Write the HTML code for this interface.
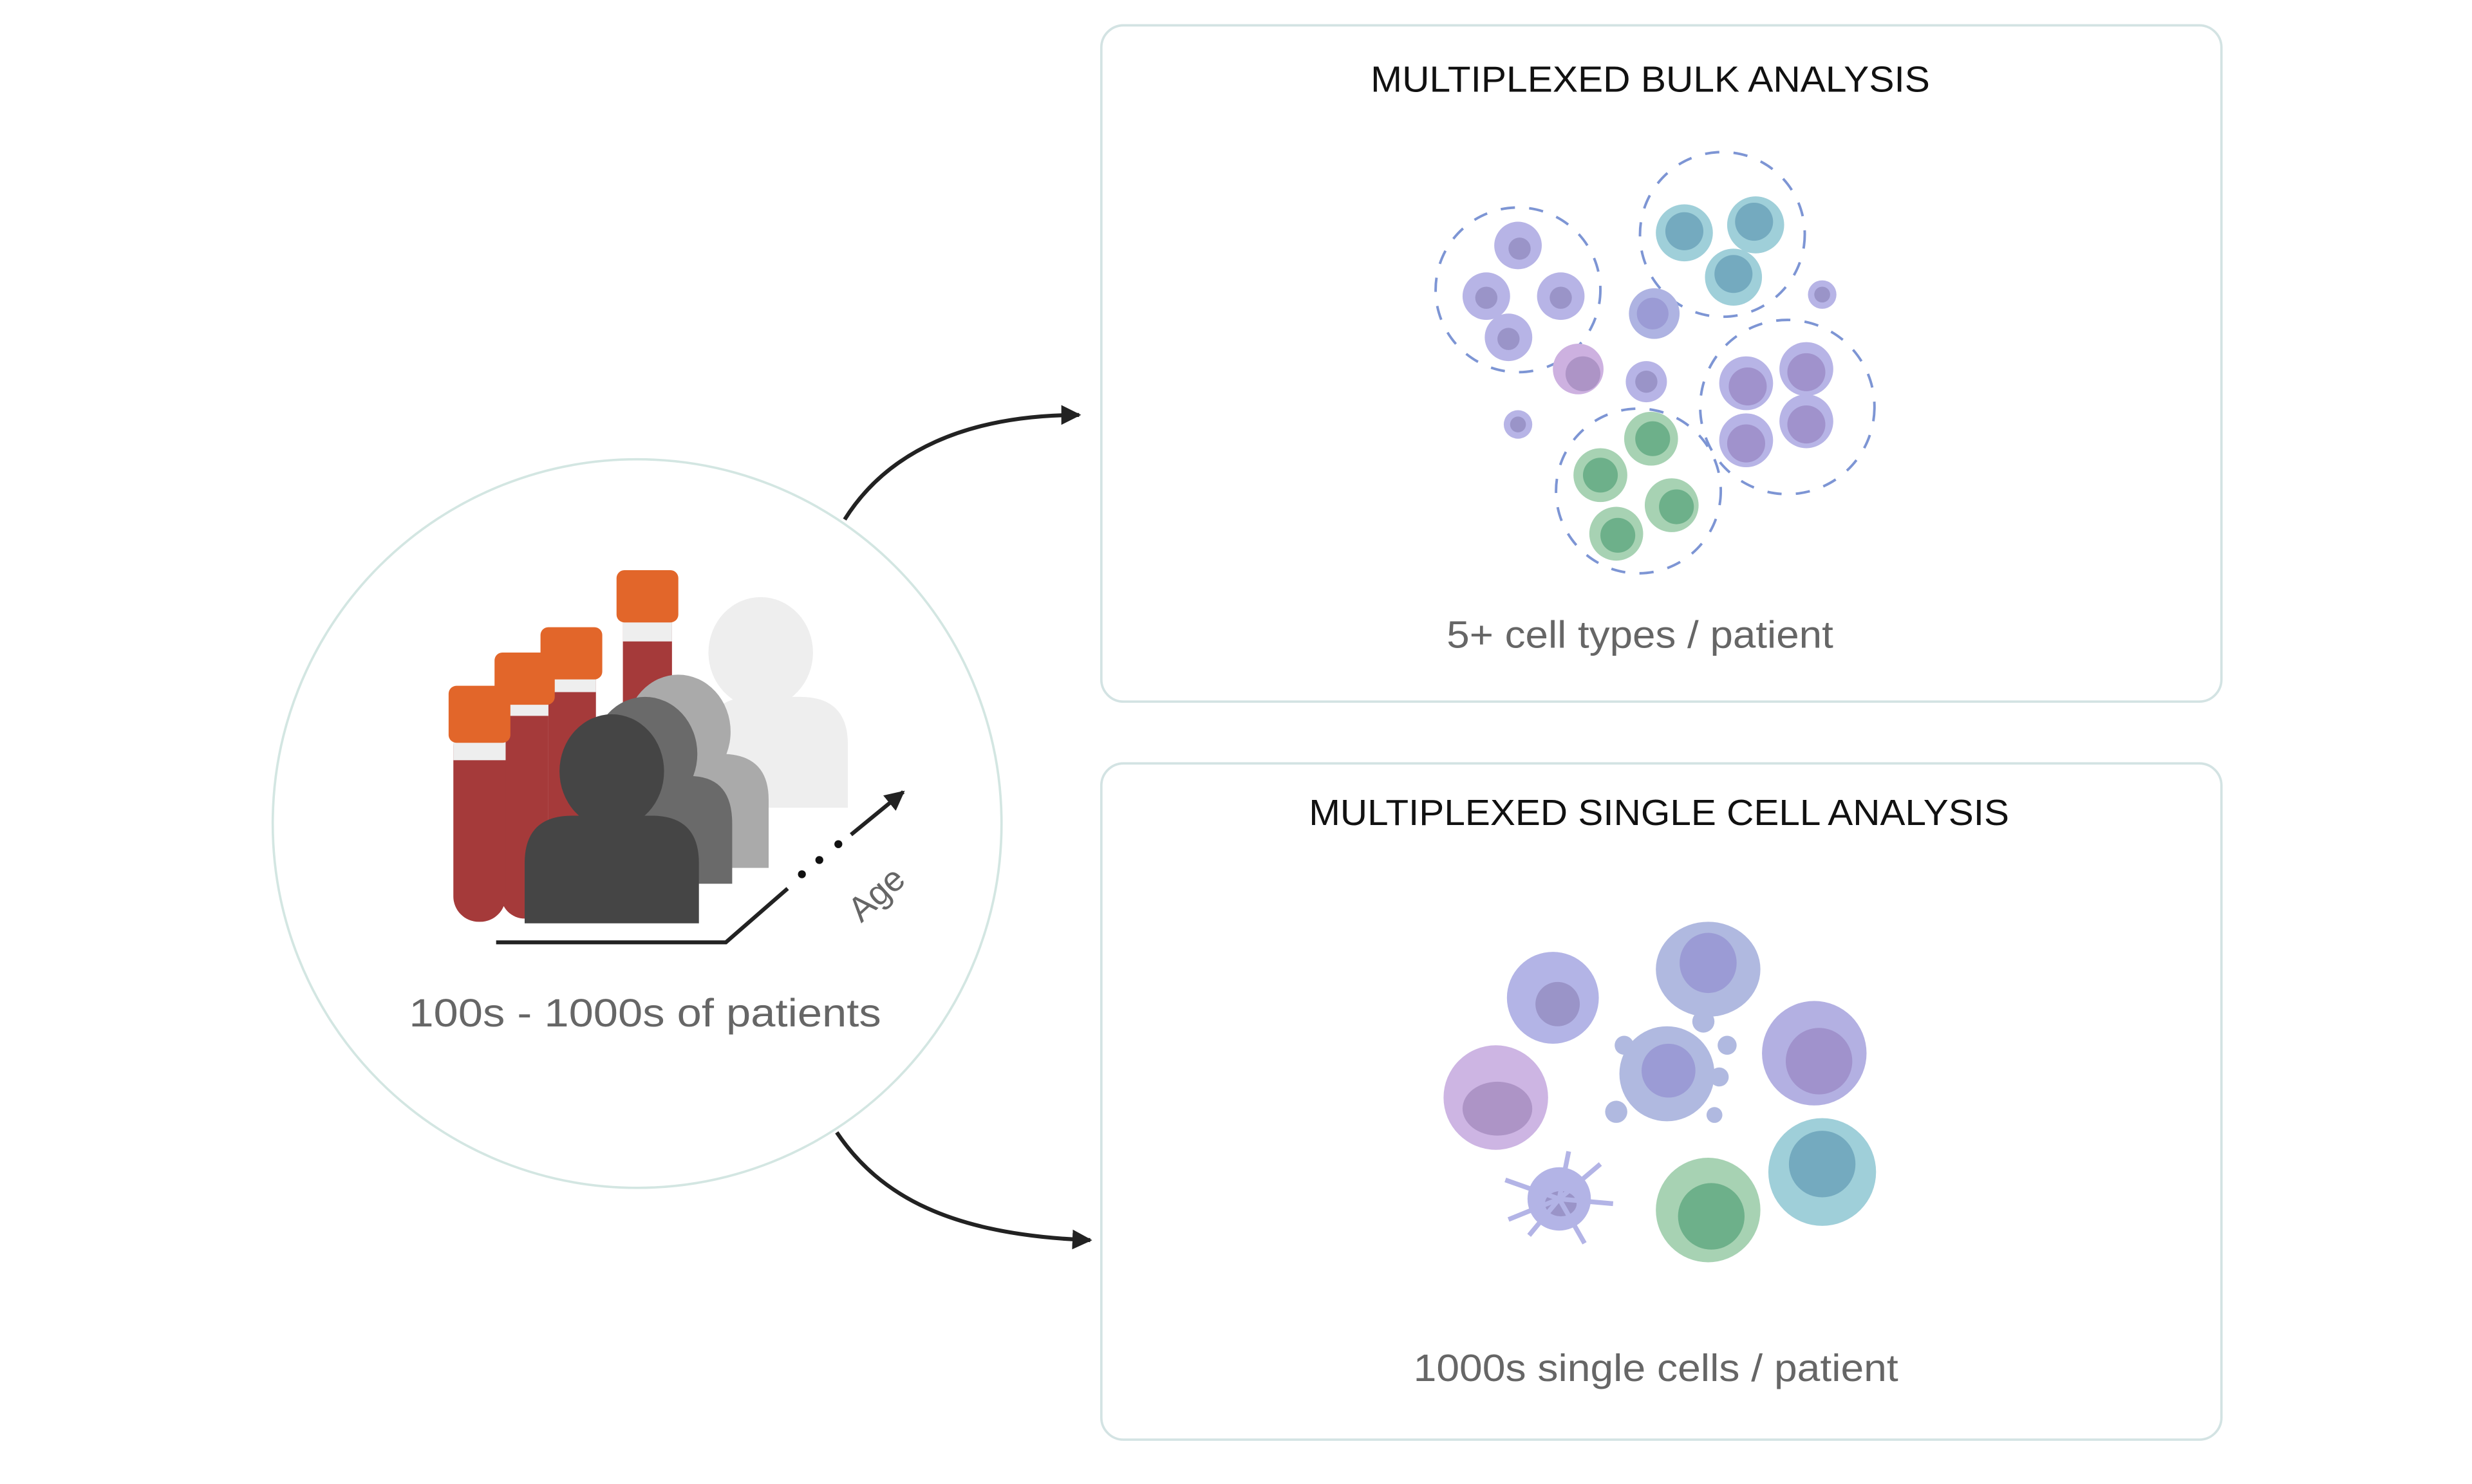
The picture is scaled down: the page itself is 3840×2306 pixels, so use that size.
<!DOCTYPE html>
<html><head><meta charset="utf-8"><style>html,body{margin:0;padding:0;background:#fff}svg{display:block}</style></head>
<body>
<svg width="3840" height="2306" viewBox="0 0 1560 937" xmlns="http://www.w3.org/2000/svg" font-family="Liberation Sans, sans-serif">
<defs>
<marker id="ah" viewBox="0 0 10 10" refX="9" refY="5" markerWidth="5" markerHeight="5" orient="auto"><path d="M0,0L10,5L0,10z" fill="#222"/></marker>
</defs>
<rect width="1560" height="937" fill="#fff"/>
<rect x="695" y="16" width="707" height="427" rx="14" fill="#fff" stroke="#d3e3e3" stroke-width="1.5"/>
<rect x="695" y="482" width="707" height="427" rx="14" fill="#fff" stroke="#d3e3e3" stroke-width="1.5"/>
<text x="865" y="58" font-size="23" fill="#111" textLength="353" lengthAdjust="spacingAndGlyphs">MULTIPLEXED BULK ANALYSIS</text>
<text x="826" y="521" font-size="23" fill="#111" textLength="442" lengthAdjust="spacingAndGlyphs">MULTIPLEXED SINGLE CELL ANALYSIS</text>
<text x="913" y="409" font-size="24" fill="#666" textLength="244" lengthAdjust="spacingAndGlyphs">5+ cell types / patient</text>
<text x="892" y="872" font-size="24" fill="#666" textLength="306" lengthAdjust="spacingAndGlyphs">1000s single cells / patient</text>
<circle cx="402" cy="520" r="230" fill="#fff" stroke="#d3e6e2" stroke-width="1.5"/>
<text x="258" y="648" font-size="25" fill="#666" textLength="298" lengthAdjust="spacingAndGlyphs">100s - 1000s of patients</text>
<path d="M533,328 C560,285 610,262 681,262" fill="none" stroke="#222" stroke-width="2.5" marker-end="url(#ah)"/>
<path d="M528,715 C555,755 600,780 688,783" fill="none" stroke="#222" stroke-width="2.5" marker-end="url(#ah)"/>
<g>
 <rect x="393" y="380" width="31" height="120" rx="14" fill="#a53a3a"/><rect x="393" y="380" width="31" height="25" fill="#eee"/><rect x="389" y="360" width="39" height="33" rx="5" fill="#e2662a"/>
 <rect x="346" y="415" width="30" height="150" rx="14" fill="#a53a3a"/><rect x="346" y="415" width="30" height="22" fill="#eee"/><rect x="341" y="396" width="39" height="33" rx="5" fill="#e2662a"/>
 <rect x="316" y="430" width="30" height="150" rx="15" fill="#a53a3a"/><rect x="316" y="430" width="30" height="22" fill="#eee"/><rect x="312" y="412" width="38" height="33" rx="5" fill="#e2662a"/>
 <rect x="286" y="455" width="33" height="127" rx="16" fill="#a53a3a"/><rect x="286" y="455" width="33" height="25" fill="#eee"/><rect x="283" y="433" width="39" height="36" rx="5" fill="#e2662a"/>
</g>
<ellipse cx="480" cy="412" rx="33" ry="35" fill="#eeeeee"/>
<path d="M445,510 L445,470 Q445,440 475,440 L505,440 Q535,440 535,470 L535,510z" fill="#eeeeee"/>
<ellipse cx="428" cy="462" rx="33" ry="36" fill="#aaaaaa"/>
<path d="M400,548 L400,505 Q400,476 430,476 L455,476 Q485,476 485,505 L485,548z" fill="#aaaaaa"/>
<ellipse cx="407" cy="476" rx="33" ry="36" fill="#6a6a6a"/>
<path d="M370,558 L370,520 Q370,490 400,490 L435,490 Q462,490 462,520 L462,558z" fill="#6a6a6a"/>
<ellipse cx="386" cy="487" rx="33" ry="36" fill="#454545"/>
<path d="M331,583 L331,545 Q331,515 361,515 L411,515 Q441,515 441,545 L441,583z" fill="#454545"/>
<polyline points="313,595 458,595 497,561" fill="none" stroke="#222" stroke-width="2.5"/>
<circle cx="506" cy="552" r="2.5" fill="#111"/><circle cx="517" cy="543" r="2.5" fill="#111"/><circle cx="529" cy="533" r="2.5" fill="#111"/>
<line x1="537" y1="527" x2="570" y2="500" stroke="#222" stroke-width="2.5" marker-end="url(#ah)"/>
<text x="558" y="570" font-size="22" fill="#666" text-anchor="middle" transform="rotate(-42 558 570)">Age</text>
<g fill="none" stroke="#7d95d4" stroke-width="1.6" stroke-dasharray="9 9">
<circle cx="958" cy="183" r="52"/><circle cx="1087" cy="148" r="52"/><circle cx="1128" cy="257" r="55"/><circle cx="1034" cy="310" r="52"/>
</g>
<g fill="#b7b4e6"><circle cx="958" cy="155" r="15"/><circle cx="938" cy="187" r="15"/><circle cx="985" cy="187" r="15"/><circle cx="952" cy="213" r="15"/><circle cx="1044" cy="198" r="16" fill="#aeb3e2"/><circle cx="1039" cy="241" r="13"/><circle cx="958" cy="268" r="9"/><circle cx="1150" cy="186" r="9"/></g>
<g fill="#9a94c8"><circle cx="959" cy="157" r="7"/><circle cx="938" cy="188" r="7"/><circle cx="985" cy="188" r="7"/><circle cx="952" cy="214" r="7"/><circle cx="1043" cy="198" r="10" fill="#9b9bd5"/><circle cx="1039" cy="241" r="7"/><circle cx="958" cy="268" r="5"/><circle cx="1150" cy="186" r="5"/></g>
<circle cx="996" cy="233" r="16" fill="#cdb1e0"/><circle cx="999" cy="236" r="11" fill="#ad94c6"/>
<g fill="#9fcfd9"><circle cx="1063" cy="147" r="18"/><circle cx="1108" cy="142" r="18"/><circle cx="1094" cy="175" r="18"/></g>
<g fill="#74aabf"><circle cx="1063" cy="146" r="12"/><circle cx="1107" cy="140" r="12"/><circle cx="1094" cy="173" r="12"/></g>
<g fill="#a7d2b3"><circle cx="1042" cy="277" r="17"/><circle cx="1010" cy="300" r="17"/><circle cx="1055" cy="319" r="17"/><circle cx="1020" cy="337" r="17"/></g>
<g fill="#6db08a"><circle cx="1043" cy="277" r="11"/><circle cx="1010" cy="300" r="11"/><circle cx="1058" cy="320" r="11"/><circle cx="1021" cy="338" r="11"/></g>
<g fill="#b7b4e6"><circle cx="1102" cy="242" r="17"/><circle cx="1140" cy="233" r="17"/><circle cx="1102" cy="278" r="17"/><circle cx="1140" cy="266" r="17"/></g>
<g fill="#a092cc"><circle cx="1103" cy="244" r="12"/><circle cx="1140" cy="235" r="12"/><circle cx="1102" cy="280" r="12"/><circle cx="1140" cy="268" r="12"/></g>
<circle cx="980" cy="630" r="29" fill="#b3b4e6"/><circle cx="983" cy="634" r="14" fill="#9a94c8"/>
<ellipse cx="1078" cy="612" rx="33" ry="30" fill="#b0b9e0"/><ellipse cx="1078" cy="608" rx="18" ry="19" fill="#9b9bd5"/>
<circle cx="1145" cy="665" r="33" fill="#b3b0e2"/><circle cx="1148" cy="670" r="21" fill="#a092cc"/>
<circle cx="944" cy="693" r="33" fill="#cdb5e3"/><ellipse cx="945" cy="700" rx="22" ry="17" fill="#ad94c6"/>
<circle cx="1052" cy="678" r="30" fill="#b0b9e0"/><circle cx="1053" cy="676" r="17" fill="#9b9bd5"/>
<g fill="#b0b9e0"><circle cx="1020" cy="702" r="7"/><circle cx="1025" cy="660" r="6"/><circle cx="1085" cy="680" r="6"/><circle cx="1090" cy="660" r="6"/><circle cx="1082" cy="704" r="5"/><circle cx="1075" cy="645" r="7"/></g>
<circle cx="984" cy="757" r="20" fill="#b3b4e6"/><ellipse cx="985" cy="760" rx="10" ry="8" fill="#9a94c8"/>
<g stroke="#b3b4e6" stroke-width="3"><line x1="984" y1="757" x2="990" y2="727"/><line x1="984" y1="757" x2="1018" y2="760"/><line x1="984" y1="757" x2="952" y2="770"/><line x1="984" y1="757" x2="950" y2="745"/><line x1="984" y1="757" x2="965" y2="780"/><line x1="984" y1="757" x2="1000" y2="785"/><line x1="984" y1="757" x2="1010" y2="735"/></g>
<circle cx="1078" cy="764" r="33" fill="#a7d2b3"/><circle cx="1080" cy="768" r="21" fill="#6db08a"/>
<circle cx="1150" cy="740" r="34" fill="#9fcfd9"/><circle cx="1150" cy="735" r="21" fill="#74aabf"/>
</svg>
</body></html>
